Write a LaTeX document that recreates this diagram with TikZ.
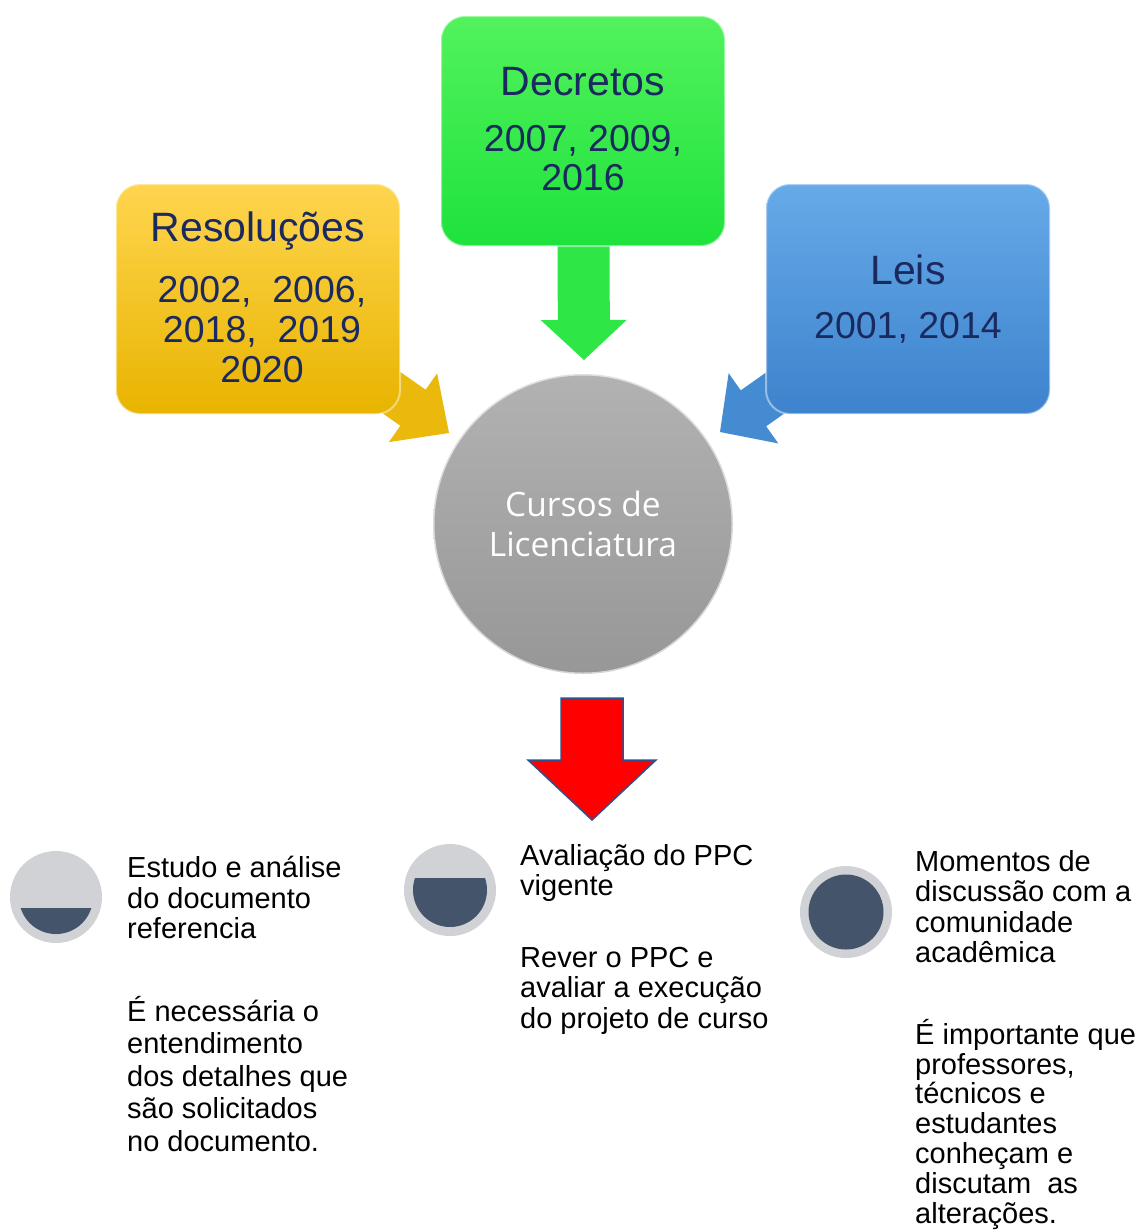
\documentclass[tikz,border=0pt]{standalone}
\usepackage{fontspec}
\setmainfont{Liberation Sans}
\newfontfamily\ballfont{Open Sans}
\usetikzlibrary{calc,positioning}

\definecolor{navy}{HTML}{1B2A5E}
\definecolor{yeltop}{HTML}{FFD54F}
\definecolor{yelbot}{HTML}{E8B400}
\definecolor{grntop}{HTML}{52F25C}
\definecolor{grnbot}{HTML}{1FE23C}
\definecolor{blutop}{HTML}{66AAE8}
\definecolor{blubot}{HTML}{3D83CD}
\definecolor{balltop}{HTML}{B2B2B2}
\definecolor{ballbot}{HTML}{979797}
\definecolor{dotlight}{HTML}{D0D2D6}
\definecolor{dotdark}{HTML}{44546A}
\definecolor{redline}{HTML}{2F528F}

\pgfdeclarelayer{bg}
\pgfsetlayers{bg,main}

% block arrow: from, to, shaft half width, head half width, head length, style
\newcommand{\fatarrow}[6]{%
  \coordinate (hb) at ($(#2)!#5pt!(#1)$);
  \path[#6] (#2) -- ($(hb)!#4pt!90:(#2)$) -- ($(hb)!#3pt!90:(#2)$)
    -- ($(#1)!#3pt!90:(#2)$) -- ($(#1)!#3pt!-90:(#2)$)
    -- ($(hb)!#3pt!-90:(#2)$) -- ($(hb)!#4pt!-90:(#2)$) -- cycle;}

\tikzset{
  card/.style={rounded corners=24pt, minimum width=284pt, minimum height=230pt,
    draw=white, draw opacity=0.45, line width=2pt},
  yelcard/.style={card, top color=yeltop, bottom color=yelbot},
  grncard/.style={card, top color=grntop, bottom color=grnbot},
  blucard/.style={card, top color=blutop, bottom color=blubot},
  ttl/.style={text=navy, font=\fontsize{41}{44}\selectfont},
  yrs/.style={text=navy, align=center, font=\fontsize{37.5}{40}\selectfont},
  ball/.style={circle, minimum size=300pt, inner sep=0pt, top color=balltop,
    bottom color=ballbot, draw=white, draw opacity=0.6, line width=3pt,
    text=white, align=center, font=\ballfont\fontsize{33.5}{40}\selectfont},
  dotout/.style={circle, fill=dotlight, minimum size=92pt, inner sep=0pt},
  note/.style={anchor=north west, align=left, inner sep=0pt,
    font=\fontsize{29}{30.5}\selectfont},
}

\begin{document}
\begin{tikzpicture}[x=1pt,y=-1pt]
 \useasboundingbox (0,0) rectangle (1140,1232);

 % boxes with the legal texts
 \node[yelcard] (res) at (258,299) {};
 \node[grncard] (dec) at (583,131) {};
 \node[blucard] (lei) at (908,299) {};
 \node[ttl] (res-t) at (258,231) {Resoluções};
 \node[yrs] (res-y) at (262,330) {2002,\ \ 2006,\\2018,\ \ 2019\\2020};
 \node[ttl] (dec-t) at (583,82) {Decretos};
 \node[yrs, font=\fontsize{37.5}{39}\selectfont] (dec-y) at (583,158) {2007, 2009,\\2016};
 \node[ttl] (lei-t) at (908,270) {Leis};
 \node[yrs] (lei-y) at (908,328) {2001, 2014};

 % centre
 \node[ball] (cur) at (583,524) {Cursos de\\Licenciatura};

 \coordinate (ytip) at (449,433);
 \coordinate (gtip) at (584,360);
 \coordinate (btip) at (720,432);
 \coordinate (rtop) at (592,698);
 \coordinate (rtip) at (592,820);

 \begin{pgfonlayer}{bg}
  \fill[white] (0,0) rectangle (1140,1232);
  \fatarrow{res.center}{ytip}{22}{42}{44}{fill=yelbot!85!yeltop}
  \fatarrow{dec.center}{gtip}{26}{43}{40}{fill=grnbot!70!grntop}
  \fatarrow{lei.center}{btip}{22}{43}{41}{fill=blubot!80!blutop}
 \end{pgfonlayer}
 \fatarrow{rtop}{rtip}{31}{64}{60}{fill=red, draw=redline, line width=1.5pt}

 % steps below
 \node[dotout] (d1) at (56,897) {};
 \node[dotout] (d2) at (450,890) {};
 \node[dotout] (d3) at (846,912) {};
 \begin{scope}
  \clip (d1.center) circle (37);
  \fill[dotdark] ($(d1.center)+(-40,11)$) rectangle ++(80,40);
 \end{scope}
 \begin{scope}
  \clip (d2.center) circle (37);
  \fill[dotdark] ($(d2.center)+(-40,-12)$) rectangle ++(80,60);
 \end{scope}
 \fill[dotdark] (d3.center) circle (37.5);

 \node[note] (s1a) at (127,856) {Estudo e análise\\do documento\\referencia};
 \node[note, font=\fontsize{29}{32.5}\selectfont] (s1b) at (127,996)
   {É necessária o\\entendimento\\dos detalhes que\\são solicitados\\no documento.};
 \node[note] (s2a) at (520,844) {Avaliação do PPC\\vigente};
 \node[note] (s2b) at (520,947) {Rever o PPC e\\avaliar a execução\\do projeto de curso};
 \node[note] (s3a) at (915,850) {Momentos de\\discussão com a\\comunidade\\acadêmica};
 \node[note, font=\fontsize{29}{29.8}\selectfont] (s3b) at (915,1019)
   {É importante que\\professores,\\técnicos e\\estudantes\\conheçam e\\discutam\ \ as\\alterações.};
\end{tikzpicture}
\end{document}
